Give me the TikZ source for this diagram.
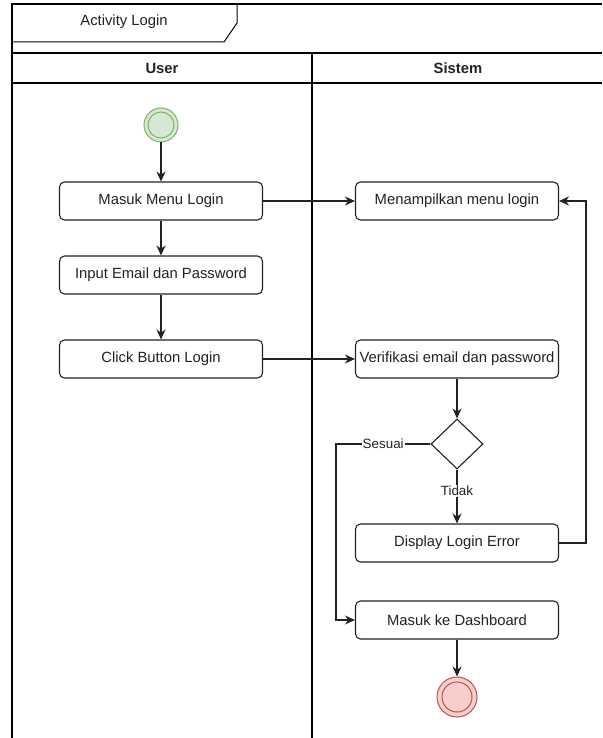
\documentclass[tikz,border=0pt]{standalone}
\usepackage{fontspec}
\setmainfont{Liberation Sans}
\usepackage{xcolor}
\usetikzlibrary{arrows.meta,shapes.geometric}
\definecolor{startFill}{HTML}{D5E8D4}
\definecolor{startLine}{HTML}{82B366}
\definecolor{endFill}{HTML}{F8CECC}
\definecolor{endLine}{HTML}{B85450}
\definecolor{ink}{HTML}{222222}
\tikzset{
  act/.style={
    draw=ink, rounded corners=5pt, line width=1.1pt,
    minimum width=203pt, minimum height=38pt, inner sep=0pt,
    text=ink, font=\fontsize{14.8}{17}\selectfont
  },
  decide/.style={
    diamond, draw=ink, line width=1.1pt,
    minimum width=52pt, minimum height=50pt, inner sep=0pt
  },
  startnode/.style={
    circle, draw=startLine, fill=startFill, line width=1pt,
    minimum size=34pt, inner sep=0pt
  },
  endnode/.style={
    circle, draw=endLine, fill=endFill, line width=1pt,
    minimum size=40pt, inner sep=0pt
  },
  flow/.style={draw=ink, -{Stealth[length=10pt,width=9pt]}, line width=1.2pt},
  guard/.style={fill=white, inner sep=1pt, text=ink, font=\fontsize{13.4}{15}\selectfont},
  head/.style={text=ink, font=\fontsize{14.8}{17}\selectfont\bfseries},
  lane/.style={line width=1.5pt}
}

\begin{document}
\begin{tikzpicture}[x=1pt,y=-1pt]
      \useasboundingbox[fill=white] (0,0) rectangle (602,738);
      % frame and swimlanes
      \draw[lane] (602,4) -- (12,4) -- (12,738);
      \draw[lane] (12,53) -- (602,53);
      \draw[lane] (12,83) -- (602,83);
      \draw[line width=2.5pt] (312,53) -- (312,738);
      \draw[line width=1pt] (237,4) -- (237,23) -- (224,42) -- (12,42);
      \node[text=ink, font=\fontsize{14.8}{17}\selectfont] (titel) at (124,22) {Activity Login};
      \node[head] (userHead) at (162,68) {User};
      \node[head] (sistemHead) at (458,68) {Sistem};

      % user lane
      \node[startnode] (start) at (161,125) {};
      \draw[startLine, line width=1pt] (start.center) circle (13pt);
      \node[act] (masuk) at (161,201) {Masuk Menu Login};
      \node[act] (input) at (161,275) {Input Email dan Password};
      \node[act] (click) at (161,359) {Click Button Login};

      % sistem lane
      \node[act] (tampil) at (457,201) {Menampilkan menu login};
      \node[act] (verif) at (457,359) {Verifikasi email dan password};
      \node[decide] (cek) at (457,444) {};
      \node[act] (error) at (457,543) {Display Login Error};
      \node[act] (dash) at (457,620) {Masuk ke Dashboard};
      \node[endnode] (finish) at (457,697) {};
      \draw[endLine, line width=1pt] (finish.center) circle (15pt);

      \coordinate (sesuaiTurn) at (336,444);
      \coordinate (balik) at (586,543);

      % flows
      \draw[flow] (start) -- (masuk);
      \draw[flow] (masuk) -- (input);
      \draw[flow] (input) -- (click);
      \draw[flow] (masuk) -- (tampil);
      \draw[flow] (click) -- (verif);
      \draw[flow] (verif) -- (cek);
      \draw[flow] (cek) -- node[guard, pos=0.4] (tidak) {Tidak} (error);
      \draw[flow] (cek.west) -- node[guard] (sesuai) {Sesuai} (sesuaiTurn) |- (dash.west);
      \draw[flow] (error.east) -- (balik) |- (tampil.east);
      \draw[flow] (dash) -- (finish);
\end{tikzpicture}
\end{document}
